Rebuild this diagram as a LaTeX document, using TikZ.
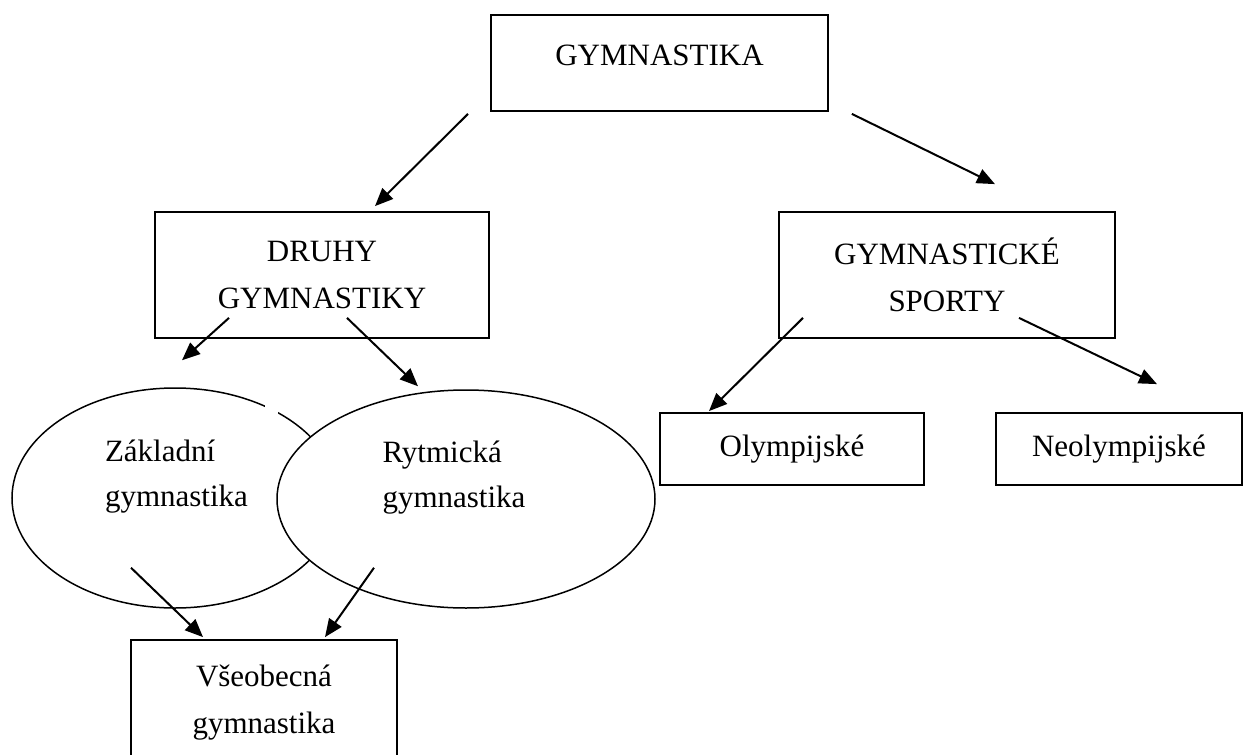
\documentclass[tikz,border=0pt]{standalone}
\usepackage{fontspec}
\setmainfont{Liberation Serif}
\usetikzlibrary{positioning,shapes.geometric,arrows.meta}

\begin{document}
\begin{tikzpicture}[
		x=1pt, y=-1pt,
		block/.style = {draw, rectangle, line width=1.8pt, inner sep=0pt, align=center, font=\fontsize{31}{47}\selectfont},
		oval/.style = {draw, ellipse, line width=1.5pt, inner sep=0pt},
		ovaltext/.style = {align=left, inner sep=0pt, font=\fontsize{31}{45}\selectfont},
		line/.style = {draw, line width=2pt, -{Triangle[length=18pt, width=15pt]}}
	]
	\useasboundingbox (0,0) rectangle (1251,755);

	% Nodos
	\node [block, minimum width=337pt, minimum height=96pt, text height=20.5pt, text depth=16pt] (gym) at (659.5,63) {GYMNASTIKA};
	\node [block, minimum width=334pt, minimum height=126pt] (druhy) at (322,275) {DRUHY\\GYMNASTIKY};
	\node [block, minimum width=336pt, minimum height=126pt] (sporty) at (947,275) {GYMNASTICKÉ\\SPORTY};
	\node [block, minimum width=264pt, minimum height=72pt] (olymp) at (792,449) {Olympijské};
	\node [block, minimum width=246pt, minimum height=72pt] (neolymp) at (1119,449) {Neolympijské};
	\node [block, minimum width=266pt, minimum height=126pt] (vseob) at (264,703) {Všeobecná\\gymnastika};

	% Elipsy
	\node [oval, minimum width=326pt, minimum height=220pt] (zakladni) at (175,498) {};
	\fill [white] (265,400) rectangle (278,418);
	\node [oval, fill=white, minimum width=378pt, minimum height=218pt] (rytmicka) at (466,499) {};
	\node [ovaltext] (zakladnitext) at (176.5,477) {Základní\\gymnastika};
	\node [ovaltext] (rytmickatext) at (454,478) {Rytmická\\gymnastika};

	% Šipky
	\draw [line] ([xshift=-191.5pt, yshift=-2pt]gym.south) -- ([xshift=53pt, yshift=5pt]druhy.north);
	\draw [line] ([xshift=23pt, yshift=-2pt]gym.south east) -- ([xshift=48pt, yshift=27pt]sporty.north);
	\draw [line] ([xshift=-93pt, yshift=21pt]druhy.south) -- ([xshift=7pt, yshift=27pt]zakladni.north);
	\draw [line] ([xshift=25pt, yshift=21pt]druhy.south) -- ([xshift=-48pt, yshift=3pt]rytmicka.north);
	\draw [line] ([xshift=-144pt, yshift=21pt]sporty.south) -- ([xshift=-83pt, yshift=1pt]olymp.north);
	\draw [line] ([xshift=72pt, yshift=21pt]sporty.south) -- ([xshift=38pt, yshift=28pt]neolymp.north);
	\draw [line] ([xshift=-44pt, yshift=41pt]zakladni.south) -- ([xshift=-61pt, yshift=2pt]vseob.north);
	\draw [line] ([xshift=-92pt, yshift=41pt]rytmicka.south) -- ([xshift=61pt, yshift=2pt]vseob.north);
\end{tikzpicture}
\end{document}
